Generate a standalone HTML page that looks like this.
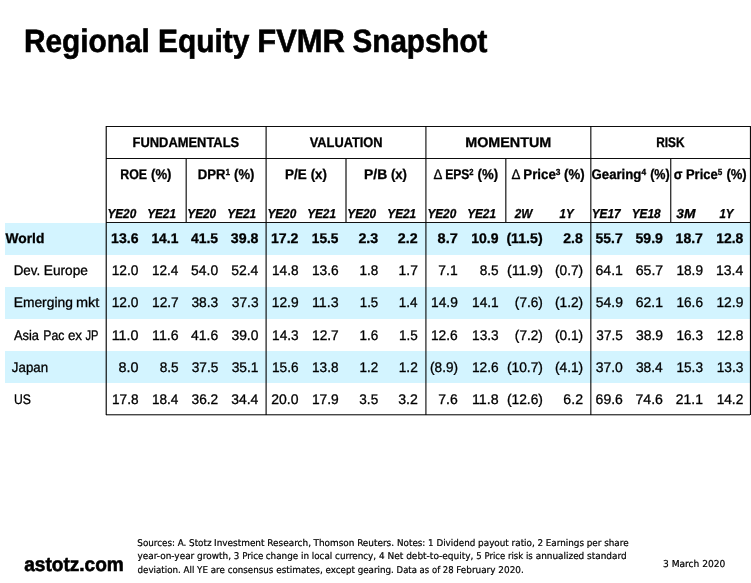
<!DOCTYPE html>
<html lang="en">
<head>
<meta charset="utf-8">
<title>Regional Equity FVMR Snapshot</title>
<style>
html,body{margin:0;padding:0;background:#fff;}
body{width:751px;height:583px;position:relative;overflow:hidden;font-family:"Liberation Sans", sans-serif;color:#000;}
.slide{position:absolute;left:0;top:0;width:751px;height:583px;overflow:hidden;background:#fff;}
.band{position:absolute;left:5px;width:746px;height:32px;background:#d3f4ff;}
.ln{position:absolute;display:block;width:1px;height:1px;}
h1,p{margin:0;padding:0;font-size:inherit;font-weight:inherit;}
.t{position:absolute;display:block;white-space:nowrap;line-height:1;margin:0;padding:0;font-weight:400;font-style:normal;-webkit-text-stroke:0.3px #000;text-rendering:geometricPrecision;}
.b,.b .t{font-weight:700;}
.i,.i .t{font-style:italic;}
.n,.n .t{font-family:"DejaVu Sans Condensed", "DejaVu Sans", "Liberation Sans", sans-serif;font-stretch:condensed;-webkit-text-stroke-width:0.2px;}
h1 .t,.k{-webkit-text-stroke-width:0.6px;}
sup{font-size:0.63em;position:relative;top:-0.48em;line-height:0;vertical-align:baseline;}
.d{font-weight:400;letter-spacing:-0.8px;}
</style>
</head>
<body>
<div class="slide">
<div class="band" style="top:223px"></div>
<div class="band" style="top:287px"></div>
<div class="band" style="top:351px"></div>
<i class="ln" style="left:106px;top:126px;width:644px;background:rgba(0,0,0,0.95)"></i>
<i class="ln" style="left:106px;top:158px;width:644px;background:rgba(0,0,0,0.95)"></i>
<i class="ln" style="left:106px;top:222px;width:644px;background:rgba(0,0,0,0.93)"></i>
<i class="ln" style="left:106px;top:414px;width:644px;background:rgba(0,0,0,0.72)"></i>
<i class="ln" style="left:106px;top:415px;width:644px;background:rgba(0,0,0,0.3)"></i>
<i class="ln" style="left:105px;top:126px;height:289px;background:rgba(0,0,0,0.35)"></i>
<i class="ln" style="left:106px;top:126px;height:289px;background:rgba(0,0,0,0.78)"></i>
<i class="ln" style="left:265px;top:126px;height:289px;background:rgba(0,0,0,0.45)"></i>
<i class="ln" style="left:266px;top:126px;height:289px;background:rgba(0,0,0,0.65)"></i>
<i class="ln" style="left:425px;top:126px;height:289px;background:rgba(0,0,0,0.62)"></i>
<i class="ln" style="left:426px;top:126px;height:289px;background:rgba(0,0,0,0.45)"></i>
<i class="ln" style="left:590px;top:126px;height:289px;background:rgba(0,0,0,0.7)"></i>
<i class="ln" style="left:591px;top:126px;height:289px;background:rgba(0,0,0,0.38)"></i>
<i class="ln" style="left:749px;top:126px;height:289px;background:rgba(0,0,0,0.1)"></i>
<i class="ln" style="left:750px;top:126px;height:289px;background:rgba(0,0,0,0.95)"></i>
<i class="ln" style="left:185px;top:159px;height:63px;background:rgba(0,0,0,0.38)"></i>
<i class="ln" style="left:186px;top:159px;height:63px;background:rgba(0,0,0,0.72)"></i>
<i class="ln" style="left:345px;top:159px;height:63px;background:rgba(0,0,0,0.56)"></i>
<i class="ln" style="left:346px;top:159px;height:63px;background:rgba(0,0,0,0.56)"></i>
<i class="ln" style="left:505px;top:159px;height:63px;background:rgba(0,0,0,0.72)"></i>
<i class="ln" style="left:506px;top:159px;height:63px;background:rgba(0,0,0,0.38)"></i>
<i class="ln" style="left:670px;top:159px;height:63px;background:rgba(0,0,0,0.78)"></i>
<i class="ln" style="left:671px;top:159px;height:63px;background:rgba(0,0,0,0.3)"></i>
<h1 class="b"><span class="t" style="left:23px;top:25px;font-size:32.3px;transform:translateX(0.89px) scaleX(0.9238);transform-origin:0 0">Regional</span> <span class="t" style="left:158px;top:25px;font-size:32.3px;transform:translateX(0.06px) scaleX(0.9250);transform-origin:0 0">Equity</span> <span class="t" style="left:257px;top:25px;font-size:32.3px;transform:translateX(0.25px) scaleX(0.9573);transform-origin:0 0">FVMR</span> <span class="t" style="left:352px;top:25px;font-size:32.3px;transform:translateX(0.55px) scaleX(0.9166);transform-origin:0 0">Snapshot</span></h1>
<div class="b t" style="left:132px;top:135px;font-size:14px;transform:translateX(0.54px) scaleX(0.9226);transform-origin:0 0">FUNDAMENTALS</div>
<div class="b t" style="left:309px;top:135px;font-size:14px;transform:translateX(0.71px) scaleX(0.9160);transform-origin:0 0">VALUATION</div>
<div class="b t" style="left:465px;top:135px;font-size:14px;transform:translateX(0.21px) scaleX(1.0245);transform-origin:0 0">MOMENTUM</div>
<div class="b t" style="left:656px;top:135px;font-size:14px;transform:translateX(0.24px) scaleX(0.8479);transform-origin:0 0">RISK</div>
<div class="b"><span class="t" style="left:120px;top:167px;font-size:14px;transform:translateX(0.3px) scaleX(0.8844);transform-origin:0 0">ROE</span> <span class="t" style="left:151px;top:167px;font-size:14px;transform:translateX(0.05px) scaleX(0.9384);transform-origin:0 0">(%)</span></div>
<div class="b"><span class="t" style="left:197px;top:167px;font-size:14px;transform:translateX(0.78px) scaleX(0.9382);transform-origin:0 0">DPR<sup>1</sup></span> <span class="t" style="left:234px;top:167px;font-size:14px;transform:translateX(0.09px) scaleX(0.9331);transform-origin:0 0">(%)</span></div>
<div class="b"><span class="t" style="left:284px;top:167px;font-size:14px;transform:translateX(0.98px) scaleX(0.9594);transform-origin:0 0">P/E</span> <span class="t" style="left:310px;top:167px;font-size:14px;transform:translateX(0.66px) scaleX(0.9424);transform-origin:0 0">(x)</span></div>
<div class="b"><span class="t" style="left:364px;top:167px;font-size:14px;transform:translateX(0.03px) scaleX(0.9911);transform-origin:0 0">P/B</span> <span class="t" style="left:390px;top:167px;font-size:14px;transform:translateX(0.9px) scaleX(0.9325);transform-origin:0 0">(x)</span></div>
<div class="b"><span class="t" style="left:433px;top:167px;font-size:14px;transform:translateX(0.38px) scaleX(0.9519);transform-origin:0 0"><span class="d">Δ</span></span> <span class="t" style="left:445px;top:167px;font-size:14px;transform:translateX(0.15px) scaleX(0.8646);transform-origin:0 0">EPS<sup>2</sup></span> <span class="t" style="left:477px;top:167px;font-size:14px;transform:translateX(0.48px) scaleX(0.9453);transform-origin:0 0">(%)</span></div>
<div class="b"><span class="t" style="left:511px;top:167px;font-size:14px;transform:translateX(0.54px) scaleX(0.9554);transform-origin:0 0"><span class="d">Δ</span></span> <span class="t" style="left:523px;top:167px;font-size:14px;transform:translateX(0.28px) scaleX(0.9492);transform-origin:0 0">Price<sup>3</sup></span> <span class="t" style="left:564px;top:167px;font-size:14px;transform:translateX(0.02px) scaleX(0.9433);transform-origin:0 0">(%)</span></div>
<div class="b"><span class="t" style="left:591px;top:167px;font-size:14px;transform:translateX(0.54px) scaleX(0.9422);transform-origin:0 0">Gearing<sup>4</sup></span> <span class="t" style="left:650px;top:167px;font-size:14px;transform:translateX(0.13px) scaleX(0.8990);transform-origin:0 0">(%)</span></div>
<div class="b"><span class="t" style="left:673px;top:167px;font-size:14px;transform:translateX(0.87px) scaleX(0.9082);transform-origin:0 0">σ</span> <span class="t" style="left:685px;top:167px;font-size:14px;transform:translateX(0.99px) scaleX(0.9243);transform-origin:0 0">Price<sup>5</sup></span> <span class="t" style="left:726px;top:167px;font-size:14px;transform:translateX(0.38px) scaleX(0.9340);transform-origin:0 0">(%)</span></div>
<div class="b i t" style="left:107px;top:207px;font-size:13px;transform:translateX(0.42px) scaleX(0.9039);transform-origin:0 0">YE20</div>
<div class="b i t" style="left:147px;top:207px;font-size:13px;transform:translateX(0.15px) scaleX(0.9046);transform-origin:0 0">YE21</div>
<div class="b i t" style="left:187px;top:207px;font-size:13px;transform:translateX(0.28px) scaleX(0.9086);transform-origin:0 0">YE20</div>
<div class="b i t" style="left:227px;top:207px;font-size:13px;transform:translateX(0.32px) scaleX(0.9076);transform-origin:0 0">YE21</div>
<div class="b i t" style="left:267px;top:207px;font-size:13px;transform:translateX(0.42px) scaleX(0.9039);transform-origin:0 0">YE20</div>
<div class="b i t" style="left:307px;top:207px;font-size:13px;transform:translateX(0.15px) scaleX(0.9046);transform-origin:0 0">YE21</div>
<div class="b i t" style="left:347px;top:207px;font-size:13px;transform:translateX(0.28px) scaleX(0.9086);transform-origin:0 0">YE20</div>
<div class="b i t" style="left:387px;top:207px;font-size:13px;transform:translateX(0.32px) scaleX(0.9076);transform-origin:0 0">YE21</div>
<div class="b i t" style="left:427px;top:207px;font-size:13px;transform:translateX(0.42px) scaleX(0.9039);transform-origin:0 0">YE20</div>
<div class="b i t" style="left:467px;top:207px;font-size:13px;transform:translateX(0.15px) scaleX(0.9046);transform-origin:0 0">YE21</div>
<div class="b i t" style="left:514px;top:207px;font-size:13px;transform:translateX(0.7px) scaleX(0.9036);transform-origin:0 0">2W</div>
<div class="b i t" style="left:559px;top:207px;font-size:13px;transform:translateX(0.52px) scaleX(0.8803);transform-origin:0 0">1Y</div>
<div class="b i t" style="left:591px;top:207px;font-size:13px;transform:translateX(0.7px) scaleX(0.9112);transform-origin:0 0">YE17</div>
<div class="b i t" style="left:631px;top:207px;font-size:13px;transform:translateX(0.69px) scaleX(0.9128);transform-origin:0 0">YE18</div>
<div class="b i t" style="left:676px;top:207px;font-size:13px;transform:translateX(0.35px) scaleX(1.0598);transform-origin:0 0">3M</div>
<div class="b i t" style="left:719px;top:207px;font-size:13px;transform:translateX(0.45px) scaleX(0.8799);transform-origin:0 0">1Y</div>
<div class="b t" style="left:5px;top:232px;font-size:13.8px;transform:translateX(0.5px) scaleX(0.9995);transform-origin:0 0">World</div>
<div class="b t" style="left:111px;top:231px;font-size:14px;transform:translateX(0.12px) scaleX(1.0038);transform-origin:0 0">13.6</div>
<div class="b t" style="left:151px;top:231px;font-size:14px;transform:translateX(0.4px) scaleX(0.9894);transform-origin:0 0">14.1</div>
<div class="b t" style="left:190px;top:231px;font-size:14px;transform:translateX(0.89px) scaleX(0.9973);transform-origin:0 0">41.5</div>
<div class="b t" style="left:230px;top:231px;font-size:14px;transform:translateX(0.87px) scaleX(1.0142);transform-origin:0 0">39.8</div>
<div class="b t" style="left:270px;top:231px;font-size:14px;transform:translateX(0.98px) scaleX(1.0079);transform-origin:0 0">17.2</div>
<div class="b t" style="left:311px;top:231px;font-size:14px;transform:translateX(0.82px) scaleX(0.9786);transform-origin:0 0">15.5</div>
<div class="b t" style="left:358px;top:231px;font-size:14px;transform:translateX(0.46px) scaleX(1.0165);transform-origin:0 0">2.3</div>
<div class="b t" style="left:397px;top:231px;font-size:14px;transform:translateX(0.79px) scaleX(1.0173);transform-origin:0 0">2.2</div>
<div class="b t" style="left:437px;top:231px;font-size:14px;transform:translateX(0.61px) scaleX(1.0365);transform-origin:0 0">8.7</div>
<div class="b t" style="left:471px;top:231px;font-size:14px;transform:translateX(0.23px) scaleX(1.0023);transform-origin:0 0">10.9</div>
<div class="b t" style="left:506px;top:231px;font-size:14px;transform:translateX(0.38px) scaleX(1.0129);transform-origin:0 0">(11.5)</div>
<div class="b t" style="left:563px;top:231px;font-size:14px;transform:translateX(0.25px) scaleX(1.0051);transform-origin:0 0">2.8</div>
<div class="b t" style="left:595px;top:231px;font-size:14px;transform:translateX(0.57px) scaleX(0.9975);transform-origin:0 0">55.7</div>
<div class="b t" style="left:635px;top:231px;font-size:14px;transform:translateX(0.49px) scaleX(1.0079);transform-origin:0 0">59.9</div>
<div class="b t" style="left:675px;top:231px;font-size:14px;transform:translateX(0.56px) scaleX(1.0047);transform-origin:0 0">18.7</div>
<div class="b t" style="left:716px;top:231px;font-size:14px;transform:translateX(0.19px) scaleX(0.9941);transform-origin:0 0">12.8</div>
<div class=""><span class="t" style="left:13px;top:264px;font-size:13.8px;transform:translateX(0.68px) scaleX(0.9691);transform-origin:0 0">Dev.</span> <span class="t" style="left:43px;top:264px;font-size:13.8px;transform:translateX(0.82px) scaleX(0.9919);transform-origin:0 0">Europe</span></div>
<div class="t" style="left:111px;top:263px;font-size:14px;transform:translateX(0.65px) scaleX(0.9854);transform-origin:0 0">12.0</div>
<div class="t" style="left:151px;top:263px;font-size:14px;transform:translateX(0.94px) scaleX(0.9698);transform-origin:0 0">12.4</div>
<div class="t" style="left:191px;top:263px;font-size:14px;transform:translateX(0.07px) scaleX(0.9928);transform-origin:0 0">54.0</div>
<div class="t" style="left:231px;top:263px;font-size:14px;transform:translateX(0.23px) scaleX(0.9949);transform-origin:0 0">52.4</div>
<div class="t" style="left:272px;top:263px;font-size:14px;transform:translateX(0.03px) scaleX(0.9743);transform-origin:0 0">14.8</div>
<div class="t" style="left:311px;top:263px;font-size:14px;transform:translateX(0.88px) scaleX(0.9831);transform-origin:0 0">13.6</div>
<div class="t" style="left:359px;top:263px;font-size:14px;transform:translateX(0.51px) scaleX(0.9643);transform-origin:0 0">1.8</div>
<div class="t" style="left:398px;top:263px;font-size:14px;transform:translateX(0.57px) scaleX(0.9907);transform-origin:0 0">1.7</div>
<div class="t" style="left:438px;top:263px;font-size:14px;transform:translateX(0.37px) scaleX(0.9934);transform-origin:0 0">7.1</div>
<div class="t" style="left:479px;top:263px;font-size:14px;transform:translateX(0.73px) scaleX(0.9730);transform-origin:0 0">8.5</div>
<div class="t" style="left:507px;top:263px;font-size:14px;transform:translateX(0.06px) scaleX(1.0092);transform-origin:0 0">(11.9)</div>
<div class="t" style="left:555px;top:263px;font-size:14px;transform:translateX(0.04px) scaleX(0.9771);transform-origin:0 0">(0.7)</div>
<div class="t" style="left:595px;top:263px;font-size:14px;transform:translateX(0.54px) scaleX(1.0037);transform-origin:0 0">64.1</div>
<div class="t" style="left:635px;top:263px;font-size:14px;transform:translateX(0.71px) scaleX(1.0100);transform-origin:0 0">65.7</div>
<div class="t" style="left:676px;top:263px;font-size:14px;transform:translateX(0.43px) scaleX(0.9750);transform-origin:0 0">18.9</div>
<div class="t" style="left:715px;top:263px;font-size:14px;transform:translateX(0.97px) scaleX(0.9993);transform-origin:0 0">13.4</div>
<div class=""><span class="t" style="left:13px;top:296px;font-size:13.8px;transform:translateX(0.69px) scaleX(1.0020);transform-origin:0 0">Emerging</span> <span class="t" style="left:76px;top:296px;font-size:13.8px;transform:scaleX(1.0501);transform-origin:0 0">mkt</span></div>
<div class="t" style="left:111px;top:295px;font-size:14px;transform:translateX(0.65px) scaleX(0.9854);transform-origin:0 0">12.0</div>
<div class="t" style="left:151px;top:295px;font-size:14px;transform:translateX(0.98px) scaleX(0.9819);transform-origin:0 0">12.7</div>
<div class="t" style="left:191px;top:295px;font-size:14px;transform:translateX(0.44px) scaleX(0.9842);transform-origin:0 0">38.3</div>
<div class="t" style="left:231px;top:295px;font-size:14px;transform:translateX(0.79px) scaleX(0.9810);transform-origin:0 0">37.3</div>
<div class="t" style="left:271px;top:295px;font-size:14px;transform:translateX(0.77px) scaleX(0.9851);transform-origin:0 0">12.9</div>
<div class="t" style="left:311px;top:295px;font-size:14px;transform:translateX(0.97px) scaleX(1.0159);transform-origin:0 0">11.3</div>
<div class="t" style="left:359px;top:295px;font-size:14px;transform:translateX(0.8px) scaleX(0.9473);transform-origin:0 0">1.5</div>
<div class="t" style="left:398px;top:295px;font-size:14px;transform:translateX(0.69px) scaleX(0.9608);transform-origin:0 0">1.4</div>
<div class="t" style="left:431px;top:295px;font-size:14px;transform:translateX(0.08px) scaleX(0.9820);transform-origin:0 0">14.9</div>
<div class="t" style="left:472px;top:295px;font-size:14px;transform:translateX(0.03px) scaleX(0.9798);transform-origin:0 0">14.1</div>
<div class="t" style="left:514px;top:295px;font-size:14px;transform:translateX(0.86px) scaleX(0.9735);transform-origin:0 0">(7.6)</div>
<div class="t" style="left:555px;top:295px;font-size:14px;transform:translateX(0.04px) scaleX(0.9771);transform-origin:0 0">(1.2)</div>
<div class="t" style="left:595px;top:295px;font-size:14px;transform:translateX(0.78px) scaleX(0.9941);transform-origin:0 0">54.9</div>
<div class="t" style="left:635px;top:295px;font-size:14px;transform:translateX(0.68px);transform-origin:0 0">62.1</div>
<div class="t" style="left:676px;top:295px;font-size:14px;transform:translateX(0.43px) scaleX(0.9741);transform-origin:0 0">16.6</div>
<div class="t" style="left:716px;top:295px;font-size:14px;transform:translateX(0.42px) scaleX(0.9883);transform-origin:0 0">12.9</div>
<div class=""><span class="t" style="left:13px;top:329px;font-size:13.8px;transform:translateX(0.88px) scaleX(0.9365);transform-origin:0 0">Asia</span> <span class="t" style="left:43px;top:329px;font-size:13.8px;transform:translateX(0.3px) scaleX(0.8877);transform-origin:0 0">Pac</span> <span class="t" style="left:67px;top:329px;font-size:13.8px;transform:translateX(0.89px) scaleX(0.9730);transform-origin:0 0">ex</span> <span class="t" style="left:85px;top:329px;font-size:13.8px;transform:translateX(0.55px) scaleX(0.8076);transform-origin:0 0">JP</span></div>
<div class="t" style="left:111px;top:328px;font-size:14px;transform:translateX(0.63px) scaleX(1.0268);transform-origin:0 0">11.0</div>
<div class="t" style="left:152px;top:328px;font-size:14px;transform:translateX(0.11px) scaleX(1.0075);transform-origin:0 0">11.6</div>
<div class="t" style="left:191px;top:328px;font-size:14px;transform:translateX(0.01px) scaleX(0.9975);transform-origin:0 0">41.6</div>
<div class="t" style="left:231px;top:328px;font-size:14px;transform:translateX(0.43px) scaleX(0.9910);transform-origin:0 0">39.0</div>
<div class="t" style="left:272px;top:328px;font-size:14px;transform:translateX(0.06px) scaleX(0.9742);transform-origin:0 0">14.3</div>
<div class="t" style="left:311px;top:328px;font-size:14px;transform:translateX(0.98px) scaleX(0.9819);transform-origin:0 0">12.7</div>
<div class="t" style="left:359px;top:328px;font-size:14px;transform:translateX(0.48px) scaleX(0.9652);transform-origin:0 0">1.6</div>
<div class="t" style="left:398px;top:328px;font-size:14px;transform:translateX(0.98px) scaleX(0.9624);transform-origin:0 0">1.5</div>
<div class="t" style="left:430px;top:328px;font-size:14px;transform:translateX(0.91px) scaleX(0.9873);transform-origin:0 0">12.6</div>
<div class="t" style="left:472px;top:328px;font-size:14px;transform:translateX(0.06px) scaleX(0.9758);transform-origin:0 0">13.3</div>
<div class="t" style="left:514px;top:328px;font-size:14px;transform:translateX(0.86px) scaleX(0.9735);transform-origin:0 0">(7.2)</div>
<div class="t" style="left:555px;top:328px;font-size:14px;transform:translateX(0.04px) scaleX(0.9771);transform-origin:0 0">(0.1)</div>
<div class="t" style="left:596px;top:328px;font-size:14px;transform:translateX(0.34px) scaleX(0.9682);transform-origin:0 0">37.5</div>
<div class="t" style="left:635px;top:328px;font-size:14px;transform:translateX(0.94px) scaleX(0.9956);transform-origin:0 0">38.9</div>
<div class="t" style="left:676px;top:328px;font-size:14px;transform:translateX(0.46px) scaleX(0.9721);transform-origin:0 0">16.3</div>
<div class="t" style="left:716px;top:328px;font-size:14px;transform:translateX(0.64px) scaleX(0.9809);transform-origin:0 0">12.8</div>
<div class="t" style="left:11px;top:361px;font-size:13.8px;transform:translateX(0.87px) scaleX(0.9625);transform-origin:0 0">Japan</div>
<div class="t" style="left:118px;top:360px;font-size:14px;transform:translateX(0.46px) scaleX(1.0275);transform-origin:0 0">8.0</div>
<div class="t" style="left:159px;top:360px;font-size:14px;transform:translateX(0.73px) scaleX(0.9730);transform-origin:0 0">8.5</div>
<div class="t" style="left:191px;top:360px;font-size:14px;transform:translateX(0.67px) scaleX(0.9768);transform-origin:0 0">37.5</div>
<div class="t" style="left:231px;top:360px;font-size:14px;transform:translateX(0.69px) scaleX(0.9841);transform-origin:0 0">35.1</div>
<div class="t" style="left:271px;top:360px;font-size:14px;transform:translateX(0.93px) scaleX(0.9760);transform-origin:0 0">15.6</div>
<div class="t" style="left:312px;top:360px;font-size:14px;transform:translateX(0.06px) scaleX(0.9711);transform-origin:0 0">13.8</div>
<div class="t" style="left:359px;top:360px;font-size:14px;transform:translateX(0.49px) scaleX(0.9589);transform-origin:0 0">1.2</div>
<div class="t" style="left:398px;top:360px;font-size:14px;transform:translateX(0.73px) scaleX(0.9783);transform-origin:0 0">1.2</div>
<div class="t" style="left:430px;top:360px;font-size:14px;transform:translateX(0.09px) scaleX(0.9678);transform-origin:0 0">(8.9)</div>
<div class="t" style="left:471px;top:360px;font-size:14px;transform:translateX(0.88px) scaleX(0.9831);transform-origin:0 0">12.6</div>
<div class="t" style="left:506px;top:360px;font-size:14px;transform:translateX(0.88px) scaleX(0.9868);transform-origin:0 0">(10.7)</div>
<div class="t" style="left:555px;top:360px;font-size:14px;transform:translateX(0.04px) scaleX(0.9771);transform-origin:0 0">(4.1)</div>
<div class="t" style="left:595px;top:360px;font-size:14px;transform:translateX(0.63px) scaleX(0.9968);transform-origin:0 0">37.0</div>
<div class="t" style="left:635px;top:360px;font-size:14px;transform:translateX(0.91px) scaleX(0.9842);transform-origin:0 0">38.4</div>
<div class="t" style="left:676px;top:360px;font-size:14px;transform:translateX(0.46px) scaleX(0.9721);transform-origin:0 0">15.3</div>
<div class="t" style="left:716px;top:360px;font-size:14px;transform:translateX(0.71px) scaleX(0.9794);transform-origin:0 0">13.3</div>
<div class="t" style="left:14px;top:393px;font-size:13.8px;transform:translateX(0.01px) scaleX(0.8833);transform-origin:0 0">US</div>
<div class="t" style="left:112px;top:392px;font-size:14px;transform:translateX(0.03px) scaleX(0.9743);transform-origin:0 0">17.8</div>
<div class="t" style="left:151px;top:392px;font-size:14px;transform:translateX(0.94px) scaleX(0.9698);transform-origin:0 0">18.4</div>
<div class="t" style="left:191px;top:392px;font-size:14px;transform:translateX(0.52px) scaleX(0.9804);transform-origin:0 0">36.2</div>
<div class="t" style="left:231px;top:392px;font-size:14px;transform:translateX(0.18px) scaleX(0.9963);transform-origin:0 0">34.4</div>
<div class="t" style="left:271px;top:392px;font-size:14px;transform:translateX(0.24px) scaleX(0.9994);transform-origin:0 0">20.0</div>
<div class="t" style="left:311px;top:392px;font-size:14px;transform:translateX(0.88px) scaleX(0.9869);transform-origin:0 0">17.9</div>
<div class="t" style="left:359px;top:392px;font-size:14px;transform:translateX(0.31px) scaleX(0.9699);transform-origin:0 0">3.5</div>
<div class="t" style="left:398px;top:392px;font-size:14px;transform:translateX(0.23px) scaleX(1.0084);transform-origin:0 0">3.2</div>
<div class="t" style="left:438px;top:392px;font-size:14px;transform:translateX(0.2px) scaleX(1.0009);transform-origin:0 0">7.6</div>
<div class="t" style="left:472px;top:392px;font-size:14px;transform:translateX(0.02px) scaleX(1.0158);transform-origin:0 0">11.8</div>
<div class="t" style="left:506px;top:392px;font-size:14px;transform:translateX(0.88px) scaleX(0.9868);transform-origin:0 0">(12.6)</div>
<div class="t" style="left:563px;top:392px;font-size:14px;transform:translateX(0.37px) scaleX(1.0100);transform-origin:0 0">6.2</div>
<div class="t" style="left:595px;top:392px;font-size:14px;transform:translateX(0.62px) scaleX(1.0015);transform-origin:0 0">69.6</div>
<div class="t" style="left:635px;top:392px;font-size:14px;transform:translateX(0.4px) scaleX(1.0129);transform-origin:0 0">74.6</div>
<div class="t" style="left:675px;top:392px;font-size:14px;transform:translateX(0.8px) scaleX(0.9946);transform-origin:0 0">21.1</div>
<div class="t" style="left:716px;top:392px;font-size:14px;transform:translateX(0.65px) scaleX(0.9773);transform-origin:0 0">14.2</div>
<div class="b k t" style="left:24px;top:555px;font-size:20px;transform:translateX(0.15px) scaleX(0.9541);transform-origin:0 0">astotz.com</div>
<p class="n"><span class="t" style="left:137px;top:539px;font-size:9.3px;transform:translateX(0.31px) scaleX(1.0483);transform-origin:0 0">Sources: A. Stotz</span> <span class="t" style="left:214px;top:539px;font-size:9.3px;transform:translateX(0.04px) scaleX(1.0652);transform-origin:0 0">Investment Research,</span> <span class="t" style="left:313px;top:539px;font-size:9.3px;transform:translateX(0.53px) scaleX(1.0612);transform-origin:0 0">Thomson Reuters.</span> <span class="t" style="left:397px;top:539px;font-size:9.3px;transform:translateX(0.04px) scaleX(1.0476);transform-origin:0 0">Notes: 1 Dividend</span> <span class="t" style="left:478px;top:539px;font-size:9.3px;transform:translateX(0.12px) scaleX(1.0549);transform-origin:0 0">payout ratio, 2</span> <span class="t" style="left:545px;top:539px;font-size:9.3px;transform:translateX(0.8px) scaleX(1.0524);transform-origin:0 0">Earnings per share</span></p>
<p class="n"><span class="t" style="left:137px;top:552px;font-size:9.3px;transform:translateX(0.51px) scaleX(1.0674);transform-origin:0 0">year-on-year growth,</span> <span class="t" style="left:233px;top:552px;font-size:9.3px;transform:translateX(0.86px) scaleX(1.0432);transform-origin:0 0">3 Price</span> <span class="t" style="left:265px;top:552px;font-size:9.3px;transform:translateX(0.75px) scaleX(1.0528);transform-origin:0 0">change in local</span> <span class="t" style="left:335px;top:552px;font-size:9.3px;transform:translateX(0.07px) scaleX(1.0505);transform-origin:0 0">currency, 4</span> <span class="t" style="left:387px;top:552px;font-size:9.3px;transform:translateX(0.5px) scaleX(1.0750);transform-origin:0 0">Net debt-to-equity,</span> <span class="t" style="left:476px;top:552px;font-size:9.3px;transform:translateX(0.3px) scaleX(1.0197);transform-origin:0 0">5 Price risk is</span> <span class="t" style="left:535px;top:552px;font-size:9.3px;transform:translateX(0.68px) scaleX(1.0641);transform-origin:0 0">annualized standard</span></p>
<p class="n"><span class="t" style="left:137px;top:566px;font-size:9.3px;transform:translateX(0.52px) scaleX(1.0418);transform-origin:0 0">deviation. All YE are</span> <span class="t" style="left:227px;top:566px;font-size:9.3px;transform:translateX(0.72px) scaleX(1.0389);transform-origin:0 0">consensus</span> <span class="t" style="left:276px;top:566px;font-size:9.3px;transform:translateX(0.19px) scaleX(1.0619);transform-origin:0 0">estimates,</span> <span class="t" style="left:325px;top:566px;font-size:9.3px;transform:translateX(0.56px) scaleX(1.0445);transform-origin:0 0">except gearing.</span> <span class="t" style="left:396px;top:566px;font-size:9.3px;transform:translateX(0.62px) scaleX(1.0160);transform-origin:0 0">Data as of 28</span> <span class="t" style="left:456px;top:566px;font-size:9.3px;transform:translateX(0.22px) scaleX(1.0620);transform-origin:0 0">February 2020.</span></p>
<div class="n t" style="left:662px;top:560px;font-size:9.5px;transform:translateX(0.98px) scaleX(1.0645);transform-origin:0 0">3 March 2020</div>
</div>
</body>
</html>
